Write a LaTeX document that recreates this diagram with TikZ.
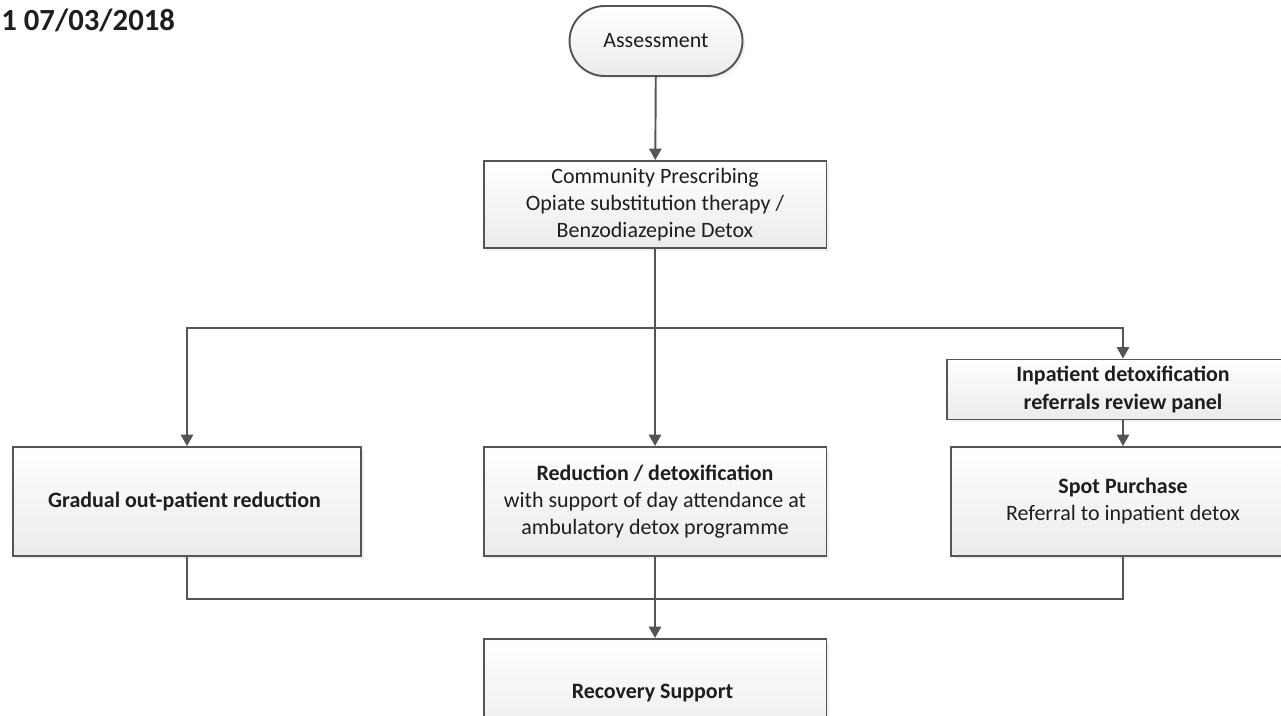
\documentclass[tikz,border=0pt]{standalone}
\usepackage{fontspec}
\setmainfont{Carlito}
\usepackage{tikz}
\usetikzlibrary{arrows.meta,positioning,shadows}
\definecolor{Line}{HTML}{555555}
\definecolor{Shade}{HTML}{EBEBEB}
\definecolor{Ink}{HTML}{1E1E1E}

\begin{document}
\begin{tikzpicture}[
  x=0.02cm, y=-0.02cm,
  >={Triangle[length=6.5pt,width=7pt]},
  every node/.style={font=\fontsize{12.5}{15.4}\selectfont, text=Ink},
  flowbox/.style={
    draw=Line,
    line width=1.1pt,
    top color=white,
    bottom color=Shade,
    drop shadow={shadow xshift=1.5pt, shadow yshift=-1.5pt, opacity=0.12},
    align=center,
    inner sep=4pt
  },
  link/.style={draw=Line, line width=1.1pt}
]
\clip (0,0) rectangle (1281,716);

% Date
\node[anchor=west, inner sep=0pt, font=\fontsize{17.5}{20}\selectfont\bfseries] (date) at (1,20) {1 07/03/2018};

% Start
\node[flowbox, rounded corners=0.7cm, minimum width=3.46cm, minimum height=1.4cm] (assess) at (656,41) {Assessment};

% Prescribing
\node[flowbox, minimum width=6.86cm, minimum height=1.74cm] (prescr) at (655,204.5) {
  Community Prescribing\\
  Opiate substitution therapy /\\
  Benzodiazepine Detox
};

% Three routes
\node[flowbox, minimum width=6.96cm, minimum height=2.18cm] (gradual) at (187,501.5) {
  \textbf{Gradual out-patient reduction}
};
\node[flowbox, minimum width=6.86cm, minimum height=2.18cm] (reduct) at (655,501.5) {
  \textbf{Reduction / detoxification}\\
  with support of day attendance at\\
  ambulatory detox programme
};
\node[flowbox, minimum width=7.04cm, minimum height=1.1cm] (panel) at (1123,389.5) {
  \textbf{Inpatient detoxification}\\
  \textbf{referrals review panel}
};
\node[flowbox, minimum width=6.88cm, minimum height=2.18cm] (spot) at (1123,501.5) {
  \textbf{Spot Purchase}\\
  Referral to inpatient detox
};

% End
\node[flowbox, minimum width=6.86cm, minimum height=2.18cm] (recov) at (655,693.5) {
  \textbf{Recovery Support}
};

% Junctions
\coordinate (split) at (655,328);
\coordinate (join) at (655,599);

% Arrows
\draw[link, ->] (assess) -- (prescr);
\draw[link, ->] (prescr) -- (reduct);
\draw[link, ->] (split) -| (gradual);
\draw[link, ->] (split) -| (panel);
\draw[link, ->] (panel) -- (spot);
\draw[link] (gradual) |- (join);
\draw[link] (spot) |- (join);
\draw[link, ->] (reduct) -- (recov);
\end{tikzpicture}
\end{document}
